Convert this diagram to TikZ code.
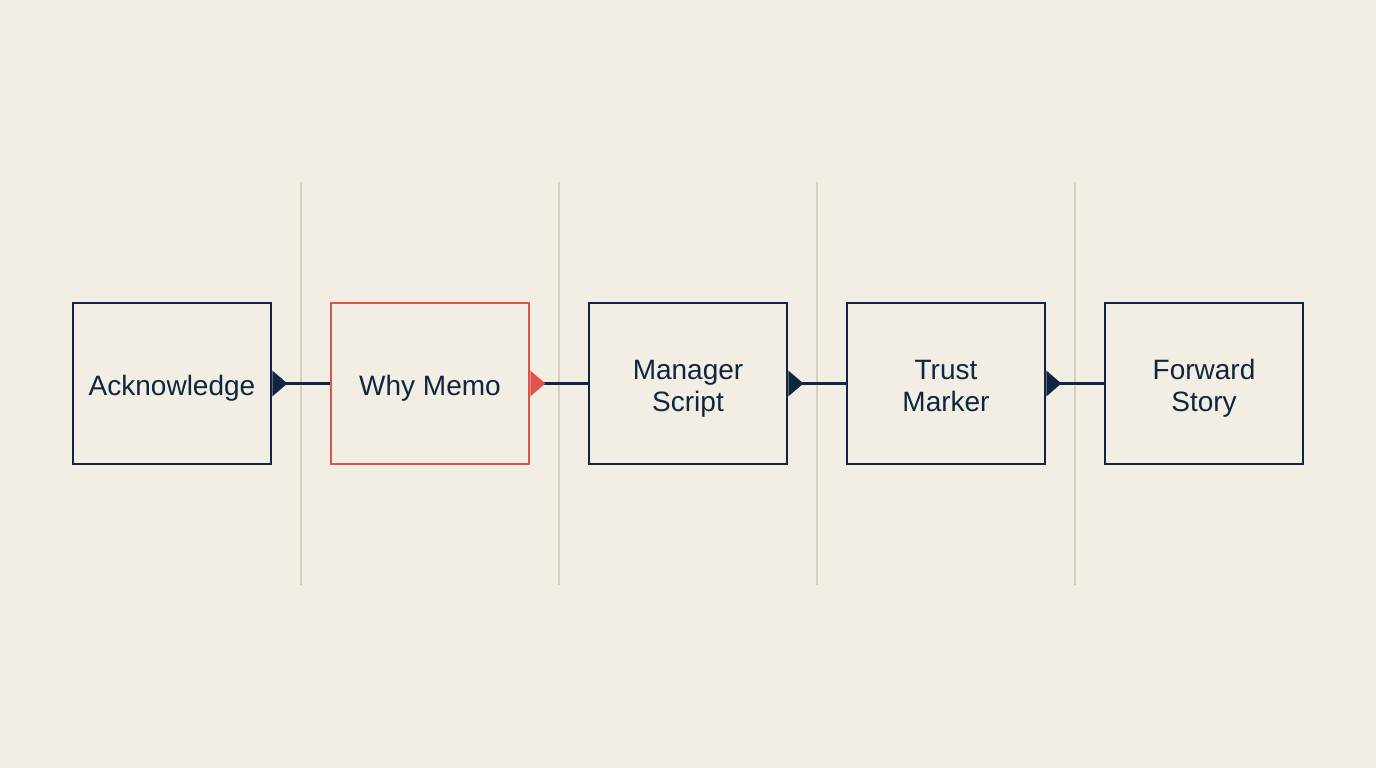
\documentclass[tikz,border=0pt]{standalone}
\usepackage{fontspec}
\setmainfont{Liberation Sans}
\usetikzlibrary{arrows.meta}
\definecolor{bg}{HTML}{F2EEE4}
\definecolor{navy}{HTML}{0F2540}
\definecolor{coral}{HTML}{E0534A}
\definecolor{divider}{HTML}{D8CFC1}
\newcommand{\lbl}[1]{\raisebox{-11.5pt}[0pt][0pt]{\begin{tabular}{@{}c@{}}#1\end{tabular}}}
\begin{document}
\begin{tikzpicture}[x=1pt,y=1pt,
  stage/.style={draw=navy, line width=2.8pt, minimum width=198pt, minimum height=161pt, inner sep=0pt, text=navy, font=\fontsize{28}{32}\selectfont},
  hot/.style={stage, draw=coral},
  link/.style={draw=navy, line width=2.8pt, {Triangle[reversed,length=15pt,width=25pt]}-},
  hotlink/.style={link, {Triangle[reversed,length=15pt,width=25pt,fill=coral,color=coral]}-},
  sep/.style={draw=divider, line width=2.5pt}]
\fill[bg] (0,0) rectangle (1376,768);
\useasboundingbox (0,0) rectangle (1376,768);
\foreach \x/\n in {301/d1,559/d2,817/d3,1075/d4}{
  \coordinate (\n t) at (\x,586);
  \coordinate (\n b) at (\x,183);
  \draw[sep] (\n t) -- (\n b);
}
\node[stage] (a) at (172,384.5) {\lbl{Acknowledge}};
\node[hot] (b) at (430,384.5) {\lbl{Why Memo}};
\node[stage] (c) at (688,384.5) {\lbl{Manager\\Script}};
\node[stage] (d) at (946,384.5) {\lbl{Trust\\Marker}};
\node[stage] (e) at (1204,384.5) {\lbl{Forward\\Story}};
\draw[link] (a.east) -- (b.west);
\draw[hotlink] (b.east) -- (c.west);
\draw[link] (c.east) -- (d.west);
\draw[link] (d.east) -- (e.west);
\end{tikzpicture}
\end{document}
